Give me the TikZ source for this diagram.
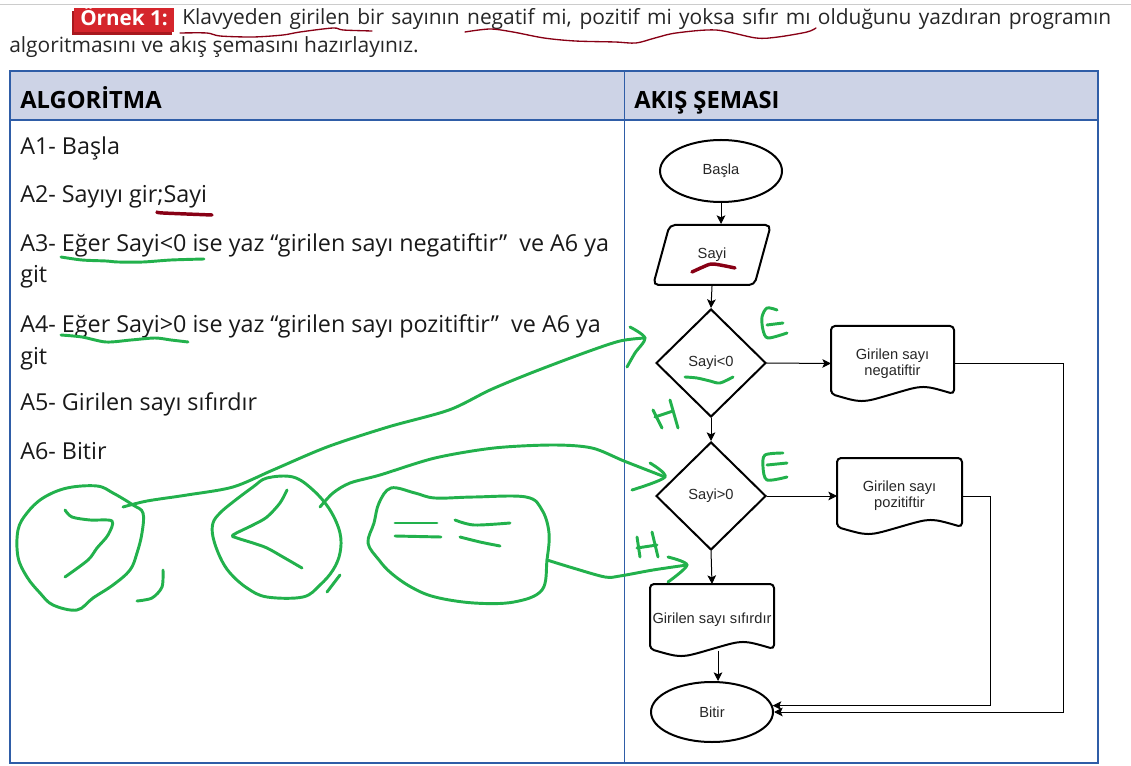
\documentclass[tikz,border=0pt]{standalone}
\usepackage{fontspec}
\setmainfont{Open Sans}
\newfontfamily\chartfont{Liberation Sans}
\usetikzlibrary{shapes.geometric,arrows.meta,calc}

\definecolor{tableblue}{RGB}{47,93,167}
\definecolor{headfill}{RGB}{205,211,230}
\definecolor{badgered}{RGB}{213,37,44}
\definecolor{badgeshade}{RGB}{168,24,30}
\definecolor{penGreen}{RGB}{34,177,76}
\definecolor{penRed}{RGB}{136,0,21}

\tikzset{
    flowbox/.style={draw=black, line width=1.5pt, inner sep=0pt, align=center,
        text=black!85, font=\chartfont\fontsize{11}{12}\selectfont},
    flowarrow/.style={-{Stealth[length=6.5pt,width=6.5pt,inset=1.5pt]}, line width=0.75pt},
    algline/.style={anchor=base west, inner sep=0pt, text=black!90, font=\fontsize{17.5}{20}\selectfont},
    taskline/.style={anchor=base west, inner sep=0pt, text=black!85, font=\fontsize{15.7}{18}\selectfont},
    colhead/.style={anchor=base west, inner sep=0pt, font=\bfseries\fontsize{17.8}{20}\selectfont},
    greenpen/.style={penGreen, line width=2.2pt, line cap=round, line join=round},
    redpen/.style={penRed, line width=2.6pt, line cap=round, line join=round},
}

% document symbol: straight sides, wavy bottom
\newcommand{\docoutline}[1]{%
    \draw[line width=1.5pt, rounded corners=3pt]
        ($(#1.south west)+(0,-7)$) -- (#1.north west) -- (#1.north east)
        -- ($(#1.south east)+(0,-7)$)
        .. controls ($(#1.south east)!0.5!(#1.south)+(0,-16)$) .. ($(#1.south)+(0,-7)$)
        .. controls ($(#1.south west)!0.5!(#1.south)+(0,2)$) .. ($(#1.south west)+(0,-7)$) -- cycle;
}

\begin{document}
\begin{tikzpicture}[x=0.75pt, y=-0.75pt]
    \useasboundingbox (0,0) rectangle (1131,766);
    \draw[black!20, line width=0.75pt] (0,5) -- (1131,5);

    % task heading
    \fill[badgeshade] (72,11) rectangle (172,35);
    \fill[badgered] (74,8) rectangle (174,32);
    \node[anchor=base, inner sep=0pt, text=white, font=\bfseries\fontsize{15.5}{18}\selectfont] (badge) at (124,26) {Örnek 1:};
    \node[taskline] (task1) at (182,25)
        {\makebox[696.75pt][s]{Klavyeden girilen bir sayının negatif mi, pozitif mi yoksa sıfır mı olduğunu yazdıran programın}};
    \node[taskline] (task2) at (9,53) {algoritmasını ve akış şemasını hazırlayınız.};

    % table
    \fill[headfill] (10,71) rectangle (1098,120);
    \draw[tableblue, line width=1.1pt] (10,120) -- (1098,120);
    \draw[tableblue, line width=0.75pt] (624,71) -- (624,763);
    \draw[tableblue, line width=1.9pt] (10,71) rectangle (1098,763);
    \node[colhead] (colalg) at (20,109) {ALGORİTMA};
    \node[colhead] (colflow) at (634,109) {AKIŞ ŞEMASI};

    % algorithm steps
    \foreach \name/\y/\txt in {
        a1/155/A1- Başla,
        a2/203/A2- Sayıyı gir;Sayi,
        a3/252/A3- Eğer Sayi<0 ise yaz “girilen sayı negatiftir”~ ve A6 ya,
        a3b/283/git,
        a4/333/A4- Eğer Sayi>0 ise yaz “girilen sayı pozitiftir”~ ve A6 ya,
        a4b/364/git,
        a5/410/A5- Girilen sayı sıfırdır,
        a6/459/A6- Bitir
    } {
        \node[algline] (\name) at (20,\y) {\txt};
    }

    % flow chart
    \node[flowbox, ellipse, minimum width=91.5pt, minimum height=46.5pt] (basla) at (721,171) {Başla};
    \node[flowbox, trapezium, trapezium left angle=68, trapezium right angle=112,
        trapezium stretches=true, minimum width=88.5pt, minimum height=45pt, rounded corners=4pt] (sayi) at (712,255) {Sayi};
    \node[flowbox, diamond, minimum width=82.5pt, minimum height=81pt] (neg) at (711,363) {Sayi<0};
    \node[flowbox, diamond, minimum width=82.5pt, minimum height=81pt] (pos) at (711,496) {Sayi>0};
    \node[flowbox, draw=none, minimum width=90.75pt, minimum height=54.75pt] (negdoc) at (892.5,363.5) {Girilen sayı\\negatiftir};
    \node[flowbox, draw=none, minimum width=92.25pt, minimum height=55.5pt] (posdoc) at (899.5,496) {Girilen sayı\\pozitiftir};
    \node[flowbox, draw=none, minimum width=91.5pt, minimum height=52.5pt] (zerodoc) at (712,620) {Girilen sayı sıfırdır};
    \node[flowbox, ellipse, minimum width=91.5pt, minimum height=45pt] (bitir) at (712,712) {Bitir};
    \docoutline{negdoc}
    \docoutline{posdoc}
    \docoutline{zerodoc}

    \draw[flowarrow] (basla.south) -- (basla.south |- sayi.north);
    \draw[flowarrow] (sayi.south) -- (neg.north);
    \draw[flowarrow] (neg.south) -- (pos.north);
    \draw[flowarrow] (neg.east) -- (negdoc.west);
    \draw[flowarrow] (pos.east) -- (posdoc.west);
    \draw[flowarrow] (pos.south) -- (zerodoc.north);
    \draw[flowarrow] ([xshift=4.5pt,yshift=4pt]zerodoc.south) -- ([xshift=4.5pt]bitir.north);
    \draw[flowarrow] (negdoc.east) -- ++(109,0) |- (bitir.east);
    \draw[flowarrow] (posdoc.east) -- ++(28,0) |- (bitir.6);

    % pen marks
    \draw[penRed, line width=1pt, line cap=round] plot[smooth] coordinates
        {(180,33) (207,33) (220,36) (253,37) (283,35) (300,32) (333,28) (343,30) (372,31)};
    \draw[penRed, line width=1pt, line cap=round] plot[smooth] coordinates
        {(465,32) (490,29) (513,32) (544,38) (575,41) (615,42) (636,43) (655,38) (676,33) (716,30) (756,38) (778,37) (807,32) (816,28)};
    \draw[redpen] plot[smooth] coordinates {(157,212) (163,213) (212,215)};
    \draw[redpen] plot[smooth] coordinates {(692,272) (703,267) (713,264) (735,268)};

    \draw[greenpen] plot[smooth] coordinates {(61,257) (82,260) (106,261) (118,262) (143,262) (171,260) (204,259)};
    \draw[greenpen] plot[smooth] coordinates {(61,335) (82,337) (106,342) (131,340) (155,338) (171,340) (188,342)};
    \draw[greenpen] plot[smooth] coordinates {(685,377) (697,378) (710,381) (720,383) (733,377)};

    % circled symbols
    \draw[greenpen] plot[smooth cycle, tension=0.6] coordinates
        {(97,486) (67,488) (43,498) (27,513) (18,530) (18,557) (27,577) (40,593) (53,605) (77,610) (93,598) (113,585) (130,570) (137,553) (142,533) (143,513) (133,505) (113,493)};
    \draw[greenpen] plot[smooth] coordinates {(65,510) (72,517) (90,520) (112,521) (108,535) (97,548) (88,560) (65,577)};
    \draw[greenpen] plot[smooth] coordinates {(163,570) (162,587) (152,598) (137,601)};
    \draw[greenpen] plot[smooth cycle, tension=0.6] coordinates
        {(293,477) (267,478) (253,487) (233,502) (220,513) (213,523) (213,537) (220,557) (230,573) (247,588) (267,597) (303,597) (320,585) (333,570) (340,553) (340,533) (330,510) (313,490)};
    \draw[greenpen] plot[smooth] coordinates {(287,490) (280,503) (267,517) (253,525) (233,535) (237,538) (253,543) (267,548) (283,557) (302,568)};
    \draw[greenpen] (340,575) -- (327,592);
    \draw[greenpen] plot[smooth cycle, tension=0.6] coordinates
        {(391,488) (415,493) (435,498) (474,497) (526,497) (542,510) (549,533) (547,560) (542,590) (514,602) (474,603) (435,597) (411,587) (391,573) (379,560) (368,543) (374,523) (379,503)};
    \draw[greenpen] (395,523) -- (437,523);
    \draw[greenpen] (395,536) -- (441,537);
    \draw[greenpen] plot[smooth] coordinates {(455,520) (474,525) (510,523)};
    \draw[greenpen] plot[smooth] coordinates {(460,537) (480,542) (500,546)};

    % pen arrows to the decisions
    \draw[greenpen] plot[smooth] coordinates
        {(123,507) (147,501) (187,495) (233,487) (273,470) (327,447) (388,427) (449,410) (490,390) (531,373) (584,353) (620,341) (645,338)};
    \draw[greenpen] plot[smooth] coordinates {(630,327) (645,338) (635,353) (627,367)};
    \draw[greenpen] plot[smooth] coordinates
        {(320,507) (333,493) (350,483) (380,475) (435,458) (494,448) (553,445) (592,448) (624,461) (665,477)};
    \draw[greenpen] plot[smooth] coordinates {(650,463) (665,477) (632,490)};
    \draw[greenpen] plot[smooth] coordinates {(547,560) (573,568) (605,577) (620,576) (653,570) (687,565)};
    \draw[greenpen] plot[smooth] coordinates {(668,557) (687,565) (668,582)};

    % E / H letters
    \draw[greenpen] plot[smooth] coordinates {(777,310) (767,308) (762,317) (763,330) (768,338) (787,333)};
    \draw[greenpen] (767,325) -- (783,323);
    \draw[greenpen] (653,410) -- (662,428);
    \draw[greenpen] (670,400) -- (678,428);
    \draw[greenpen] (655,417) -- (673,411);
    \draw[greenpen] plot[smooth] coordinates {(783,453) (765,455) (763,467) (767,480) (787,477)};
    \draw[greenpen] (767,465) -- (787,463);
    \draw[greenpen] (637,537) -- (640,557);
    \draw[greenpen] (652,532) -- (658,557);
    \draw[greenpen] (637,548) -- (657,545);
\end{tikzpicture}
\end{document}
